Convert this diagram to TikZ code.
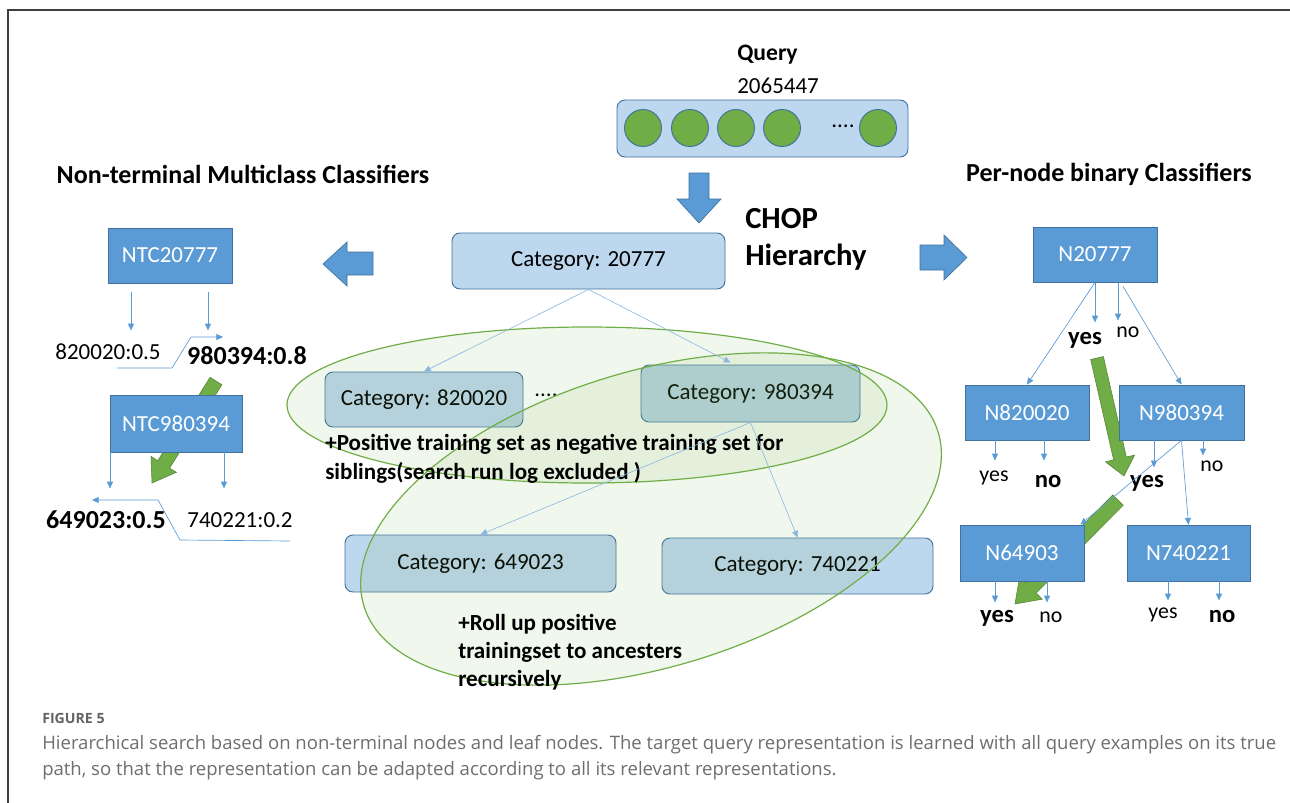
\documentclass[tikz,border=0pt]{standalone}
\usepackage{fontspec}
\setmainfont{Carlito}
\newfontfamily\capfont{Open Sans}
\usetikzlibrary{arrows.meta,calc}
\definecolor{dblue}{HTML}{5B9BD5}
\definecolor{bborder}{HTML}{41719C}
\definecolor{lblue}{HTML}{BDD7EE}
\definecolor{ggreen}{HTML}{70AD47}
\definecolor{thinb}{HTML}{5B9BD5}
\definecolor{midline}{HTML}{8AB6E0}
\definecolor{capgray}{HTML}{6D6E71}
\definecolor{framegray}{HTML}{3F3F3F}
\newcommand\fbase{\fontsize{17.25pt}{20pt}\selectfont}
\newcommand\ftitle{\fontsize{19.5pt}{22pt}\selectfont\bfseries}
\newcommand\fbigb{\fontsize{19.5pt}{22pt}\selectfont\bfseries}
\newcommand\fmidb{\fontsize{17.3pt}{20pt}\selectfont\bfseries}
\newcommand\fchop{\fontsize{23pt}{26pt}\selectfont\bfseries}
\newcommand\fqry{\fontsize{17.7pt}{20pt}\selectfont\bfseries}
\newcommand\fyes{\fontsize{16.4pt}{19pt}\selectfont}
\newcommand\fyesb{\fontsize{18.5pt}{21pt}\selectfont\bfseries}
\newcommand\grarrow[5]{%
  \coordinate (ga-h) at ($(#2)!#5!(#1)$);
  \filldraw[garrow] ($(#1)!#3!90:(#2)$) -- ($(ga-h)!#3!-90:(#1)$) -- ($(ga-h)!#4!-90:(#1)$) -- (#2) -- ($(ga-h)!#4!90:(#1)$) -- ($(ga-h)!#3!90:(#1)$) -- ($(#1)!#3!-90:(#2)$) -- cycle;}
\tikzset{
  darkbox/.style={draw=bborder, line width=0.6pt, fill=dblue, text=white, font=\fbase, inner sep=0pt},
  lightbox/.style={draw=bborder, line width=0.7pt, fill=lblue, rounded corners=6pt, font=\fbase, inner sep=0pt},
  dot/.style={circle, draw=bborder, line width=0.7pt, fill=ggreen, minimum size=27.75pt, inner sep=0pt},
  thinarrow/.style={draw=thinb, line width=0.5pt, -{Triangle[length=5pt,width=4.5pt]}},
  midarrow/.style={draw=midline, line width=0.45pt, -{Triangle[length=5pt,width=4.5pt]}},
  blockarr/.style={fill=dblue, draw=bborder, line width=0.5pt},
  garrow/.style={fill=ggreen, draw=ggreen!75!black, line width=0.4pt},
  ellstyle/.style={draw=ggreen, line width=0.9pt, fill=ggreen, fill opacity=0.1},
  lab/.style={font=\fbase, inner sep=0pt},
  labb/.style={font=\fbigb, inner sep=0pt},
  yesr/.style={font=\fyes, inner sep=0pt},
  yesb/.style={font=\fyesb, inner sep=0pt},
  midtxt/.style={font=\fmidb, inner sep=0pt, anchor=base west},
  captxt/.style={font=\capfont\fontsize{13.9pt}{16pt}\selectfont, text=capgray, inner sep=0pt, anchor=west}
}
\begin{document}
\begin{tikzpicture}[x=0.75pt,y=-0.75pt]
\useasboundingbox (0,0) rectangle (1290,803);
\draw[framegray, line width=1.1pt] (8,803) -- (8,10) -- (1290,10);

% green path arrows (behind boxes)
\coordinate (gls) at (216,381); \coordinate (gle) at (152,483);
\grarrow{gls}{gle}{5.25pt}{11.25pt}{16.5pt}
\coordinate (gr1s) at (1097,358); \coordinate (gr1e) at (1124,476);
\grarrow{gr1s}{gr1e}{4.9pt}{11.25pt}{13.5pt}
\coordinate (gr2s) at (1118,500); \coordinate (gr2e) at (1015,604);
\grarrow{gr2s}{gr2e}{5.5pt}{12pt}{17pt}

% query
\node[font=\fqry, anchor=west, inner sep=0pt] (qlab) at (737,55) {Query};
\node[lab, anchor=west] (qnum) at (737,86) {2065447};
\node[lightbox, minimum width=218.25pt, minimum height=42.75pt] (qbox) at (762.5,128.5) {};
\node[dot] (d1) at (643,128) {};
\node[dot] (d2) at (690,128) {};
\node[dot] (d3) at (736,128) {};
\node[dot] (d4) at (782,128) {};
\node[dot] (d5) at (878,128) {};
\node[lab] (qdots) at (843,126) {....};

% block arrows
\filldraw[blockarr] (689,173) -- (709,173) -- (709,199) -- (721,199) -- (699,223) -- (677,199) -- (689,199) -- cycle;
\filldraw[blockarr] (373,252) -- (347,252) -- (347,242) -- (323,264) -- (347,286) -- (347,275) -- (373,275) -- cycle;
\filldraw[blockarr] (920,245) -- (944,245) -- (944,235) -- (967,257.5) -- (944,280) -- (944,270) -- (920,270) -- cycle;

% titles
\node[font=\ftitle, inner sep=0pt] (ltitle) at (243,174) {Non-terminal Multiclass Classifiers};
\node[font=\ftitle, inner sep=0pt] (rtitle) at (1109,174) {Per-node binary Classifiers};
\node[font=\fchop, inner sep=0pt, anchor=base west] (chop) at (745,228) {CHOP};
\node[font=\fchop, inner sep=0pt, anchor=base west] (hier) at (745,265) {Hierarchy};

% middle category boxes
\node[lightbox, minimum width=204.75pt, minimum height=42pt] (c1) at (588.5,261) {Category: 20777};
\node[lightbox, minimum width=148.5pt, minimum height=41.25pt] (c2) at (424,399.5) {Category: 820020};
\node[lightbox, minimum width=164.25pt, minimum height=42.75pt] (c3) at (750.5,393.5) {Category: 980394};
\node[lightbox, minimum width=203.25pt, minimum height=42.75pt] (c4) at (480.5,563.5) {Category: 649023};
\node[lightbox, minimum width=203.25pt, minimum height=42pt] (c5) at (797.5,566) {Category: 740221};
\node[lab] (cdots) at (546,395) {....};

% left boxes
\node[darkbox, minimum width=93pt, minimum height=41.25pt] (ntc1) at (170,255.5) {NTC20777};
\node[darkbox, minimum width=99pt, minimum height=42.75pt] (ntc2) at (176,423.5) {NTC980394};

% right boxes
\node[darkbox, minimum width=93pt, minimum height=41.25pt] (n1) at (1095,254.5) {N20777};
\node[darkbox, minimum width=93pt, minimum height=41.25pt] (n2) at (1027,412.5) {N820020};
\node[darkbox, minimum width=93.75pt, minimum height=41.25pt] (n3) at (1181.5,412.5) {N980394};
\node[darkbox, minimum width=93pt, minimum height=42pt] (n4) at (1022,553) {N64903};
\node[darkbox, minimum width=92.25pt, minimum height=42pt] (n5) at (1188.5,553) {N740221};

% ellipses
\draw[ellstyle] (587,405) ellipse [x radius=225pt, y radius=58.5pt];
\draw[ellstyle, rotate around={16.8:(651,519)}] (651,519) ellipse [x radius=225pt, y radius=111pt];

% middle texts
\node[midtxt] (pos1) at (325,450) {+Positive training set as negative training set for};
\node[midtxt] (pos2) at (325,479) {siblings(search run log excluded )};
\node[midtxt] (roll1) at (458,630) {+Roll up positive};
\node[midtxt] (roll2) at (458,658) {trainingset to ancesters};
\node[midtxt] (roll3) at (458,686) {recursively};

% middle connectors
\draw[midarrow] (c1.south) -- (c2.north);
\draw[midarrow] (c1.south) -- ($(c3.north)+(-20,-2)$);
\draw[midarrow] (c3.south) -- (c4.north);
\draw[midarrow] (c3.south) -- (c5.north);

% left labels
\node[lab] (l820) at (108,352) {820020:0.5};
\node[labb] (l980) at (247,356) {980394:0.8};
\node[labb] (l649) at (106,520) {649023:0.5};
\node[lab] (l740) at (240,520) {740221:0.2};
\draw[thinarrow] ($(ntc1.south)+(-39,9)$) -- ++(0,38);
\draw[thinarrow] ($(ntc1.south)+(38,9)$) -- ++(0,38);
\draw[thinarrow] ($(ntc2.south)+(-66,0)$) -- ++(0,36);
\draw[thinarrow] ($(ntc2.south)+(48,0)$) -- ++(0,36);
\coordinate (p1a) at (117,368); \coordinate (p1b) at (172,368);
\coordinate (p1c) at (191,337); \coordinate (p1d) at (223,337);
\draw[thinarrow] (p1a) -- (p1b) -- (p1c) -- (p1d);
\coordinate (p2a) at (290,541); \coordinate (p2b) at (180,540);
\coordinate (p2c) at (158,500); \coordinate (p2d) at (92,500);
\draw[thinarrow] (p2a) -- (p2b) -- (p2c) -- (p2d);

% right labels
\node[yesb] (y1) at (1085,340) {yes};
\node[yesr] (no1) at (1128,332) {no};
\node[yesr] (y2) at (994,478) {yes};
\node[yesb] (no2) at (1048,482) {no};
\node[yesb] (y3) at (1147,483) {yes};
\node[yesr] (no3) at (1212,466) {no};
\node[yesb] (y4) at (997,618) {yes};
\node[yesr] (no4) at (1051,617) {no};
\node[yesr] (y5) at (1163,615) {yes};
\node[yesb] (no5) at (1222,617) {no};

% right connectors
\draw[thinarrow] (n1.south) -- (n2.north);
\draw[thinarrow] ($(n1.south)+(28,4)$) -- (n3.north);
\draw[thinarrow] ($(n1.south)+(0,1)$) -- ++(0,39);
\draw[thinarrow] ($(n1.south)+(23,1)$) -- ++(0,37);
\draw[thinarrow] ($(n2.south)+(-32,0)$) -- ++(0,20);
\draw[thinarrow] ($(n2.south)+(17,0)$) -- ++(0,20);
\draw[thinarrow] ($(n3.south)+(-27.5,0)$) -- ++(0,27);
\draw[thinarrow] ($(n3.south)+(21.5,0)$) -- ++(0,15);
\draw[thinarrow] (n3.south) -- ($(n4.north east)+(-4,0)$);
\draw[thinarrow] (n3.south) -- (n5.north);
\draw[thinarrow] ($(n4.south)+(-27,0)$) -- ++(0,21);
\draw[thinarrow] ($(n4.south)+(25,0)$) -- ++(0,21);
\draw[thinarrow] ($(n5.south)+(-20.5,0)$) -- ++(0,19);
\draw[thinarrow] ($(n5.south)+(30.5,0)$) -- ++(0,19);

% caption
\node[font=\capfont\bfseries\fontsize{10.6pt}{13pt}\selectfont, text=capgray!90!black, inner sep=0pt, anchor=west] (figlab) at (42,718) {FIGURE 5};
\node[captxt] (cap1) at (42,745) {Hierarchical search based on non-terminal nodes and leaf nodes. The target query representation is learned with all query examples on its true};
\node[captxt] (cap2) at (42,771) {path, so that the representation can be adapted according to all its relevant representations.};
\end{tikzpicture}
\end{document}
